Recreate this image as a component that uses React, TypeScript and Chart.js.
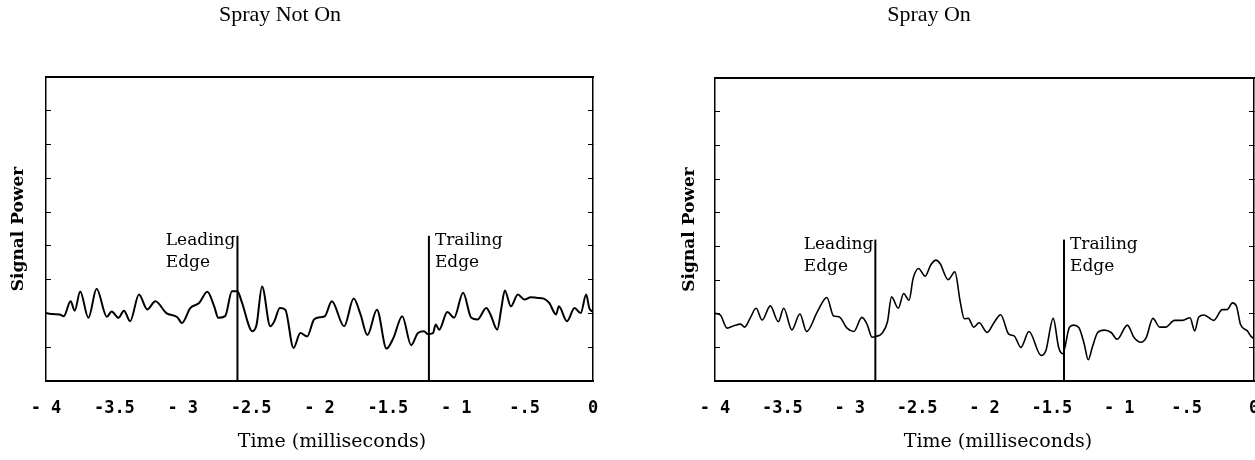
import React, { useEffect, useRef } from "react";
import { Chart, registerables } from "chart.js";

Chart.register(...registerables);

// ---------- data ----------
const noSprayTime = [-4.0, -3.95, -3.9, -3.87, -3.82, -3.79, -3.75, -3.69, -3.63, -3.555, -3.52, -3.47, -3.43, -3.385, -3.32, -3.26, -3.2, -3.12, -3.04, -3.006, -2.945, -2.88, -2.82, -2.77, -2.74, -2.69, -2.64, -2.6, -2.57, -2.49, -2.46, -2.42, -2.36, -2.33, -2.29, -2.25, -2.19, -2.14, -2.09, -2.04, -1.99, -1.96, -1.91, -1.82, -1.75, -1.7, -1.65, -1.58, -1.51, -1.46, -1.395, -1.33, -1.28, -1.235, -1.21, -1.17, -1.15, -1.125, -1.065, -1.016, -0.95, -0.89, -0.845, -0.78, -0.75, -0.7, -0.67, -0.645, -0.6, -0.55, -0.5, -0.455, -0.405, -0.36, -0.32, -0.27, -0.25, -0.19, -0.135, -0.09, -0.05, -0.027, 0];
const noSprayPower = [2.01, 1.98, 1.97, 1.92, 2.36, 2.08, 2.65, 1.87, 2.73, 1.9, 2.06, 1.87, 2.08, 1.77, 2.56, 2.12, 2.36, 2.01, 1.89, 1.72, 2.16, 2.31, 2.64, 2.21, 1.87, 1.92, 2.66, 2.66, 2.36, 1.47, 1.67, 2.8, 1.62, 1.77, 2.16, 2.11, 0.98, 1.42, 1.32, 1.82, 1.89, 1.92, 2.36, 1.62, 2.44, 1.97, 1.36, 2.11, 0.96, 1.27, 1.92, 1.06, 1.42, 1.47, 1.39, 1.42, 1.67, 1.52, 2.04, 1.87, 2.61, 1.87, 1.82, 2.16, 1.97, 1.52, 2.16, 2.68, 2.21, 2.56, 2.41, 2.48, 2.46, 2.44, 2.31, 1.97, 2.21, 1.77, 2.16, 2.01, 2.56, 2.16, 2.05];

const sprayTime = [-4.0, -3.96, -3.91, -3.86, -3.81, -3.78, -3.74, -3.695, -3.65, -3.59, -3.53, -3.49, -3.43, -3.37, -3.32, -3.24, -3.17, -3.12, -3.08, -3.02, -2.97, -2.91, -2.87, -2.835, -2.81, -2.76, -2.72, -2.69, -2.64, -2.6, -2.56, -2.53, -2.49, -2.44, -2.4, -2.36, -2.33, -2.27, -2.22, -2.18, -2.15, -2.12, -2.08, -2.04, -1.98, -1.93, -1.88, -1.82, -1.78, -1.73, -1.67, -1.58, -1.545, -1.49, -1.45, -1.42, -1.37, -1.34, -1.3, -1.26, -1.23, -1.2, -1.16, -1.11, -1.06, -1.015, -0.94, -0.89, -0.84, -0.8, -0.75, -0.7, -0.655, -0.59, -0.53, -0.475, -0.44, -0.41, -0.37, -0.3, -0.235, -0.2, -0.16, -0.13, -0.1, -0.05, -0.025, 0];
const sprayPower = [2.01, 1.96, 1.57, 1.64, 1.69, 1.6, 1.86, 2.16, 1.81, 2.23, 1.76, 2.16, 1.52, 1.99, 1.47, 2.06, 2.48, 1.93, 1.91, 1.57, 1.47, 1.89, 1.67, 1.3, 1.32, 1.42, 1.76, 2.5, 2.16, 2.6, 2.4, 3.04, 3.34, 3.11, 3.44, 3.59, 3.49, 3.01, 3.24, 2.35, 1.85, 1.86, 1.6, 1.73, 1.44, 1.73, 1.97, 1.39, 1.34, 1.0, 1.47, 0.76, 0.9, 1.86, 1.0, 0.81, 1.59, 1.66, 1.59, 1.1, 0.63, 1.0, 1.44, 1.51, 1.44, 1.24, 1.66, 1.29, 1.15, 1.29, 1.86, 1.6, 1.6, 1.8, 1.8, 1.88, 1.49, 1.9, 1.96, 1.8, 2.12, 2.12, 2.32, 2.22, 1.68, 1.49, 1.34, 1.25];

const xTickValues = [-4, -3.5, -3, -2.5, -2, -1.5, -1, -0.5, 0];
const xTickLabels = ["- 4", "-3.5", "- 3", "-2.5", "- 2", "-1.5", "- 1", "-.5", "0"];
const yMin = 0;
const yMax = 9;
const yStep = 1;

const panelTitles = ["Spray Not On", "Spray On"];
const edgeLabelLines = [["Leading", "Edge"], ["Trailing", "Edge"]];
const noSprayEdgeTimes = [-2.6, -1.2];
const sprayEdgeTimes = [-2.81, -1.41];
const edgeTopValues = [4.3, 4.2];
const yAxisTitle = "Signal Power";
const xAxisTitle = "Time (milliseconds)";

// ---------- layout ----------
const H = 460;
const panels = [
  {
    key: "a", left: 0, width: 640, plotLeft: 46, plotRight: 593, plotTop: 77, plotBottom: 381,
    title: panelTitles[0], titleX: 280, titleY: 15, yTitleX: 19, xTitleX: 332, xTitleY: 442,
    times: noSprayTime, power: noSprayPower, edgeTimes: noSprayEdgeTimes, edgeTop: edgeTopValues[0], lineWidth: 2,
  },
  {
    key: "b", left: 640, width: 640, plotLeft: 715, plotRight: 1254, plotTop: 78, plotBottom: 381,
    title: panelTitles[1], titleX: 929, titleY: 15, yTitleX: 690, xTitleX: 998, xTitleY: 442,
    times: sprayTime, power: sprayPower, edgeTimes: sprayEdgeTimes, edgeTop: edgeTopValues[1], lineWidth: 1.6,
  },
];

const titleFont = "22px 'Liberation Serif', serif";
const edgeFont = "17px 'DejaVu Serif', serif";
const xTitleFont = "19px 'DejaVu Serif', serif";
const tickFont = { family: "'DejaVu Sans Mono', monospace", size: 17, weight: "bold" as const };
const yTitleFont = { family: "'DejaVu Serif', serif", size: 17, weight: "bold" as const };

function Panel({ s }: { s: (typeof panels)[number] }) {
  const ref = useRef<HTMLCanvasElement>(null);
  useEffect(() => {
    const canvas = ref.current!;
    const textPlugin = {
      id: "panelText",
      afterDatasetsDraw(chart: any) {
        const { ctx } = chart;
        const xs = chart.scales.x;
        const ys = chart.scales.y;
        ctx.save();
        ctx.fillStyle = "#000";
        ctx.textAlign = "center";
        ctx.textBaseline = "middle";
        ctx.font = titleFont;
        ctx.fillText(s.title, s.titleX - s.left, s.titleY);
        ctx.font = xTitleFont;
        ctx.fillText(xAxisTitle, s.xTitleX - s.left, s.xTitleY);
        ctx.font = edgeFont;
        ctx.textAlign = "left";
        ctx.textBaseline = "alphabetic";
        s.edgeTimes.forEach((t, i) => {
          const px = xs.getPixelForValue(t);
          const py = ys.getPixelForValue(s.edgeTop);
          const lines = edgeLabelLines[i];
          const first = ctx.measureText(lines[0]).width;
          const tx = i === 0 ? px - 2 - first : px + 6;
          lines.forEach((ln, j) => ctx.fillText(ln, tx, py + 9 + j * 22));
        });
        ctx.restore();
      },
    };

    const yTitleLH = yTitleFont.size * 1.2;

    const chart = new Chart(canvas, {
      type: "line",
      data: {
        datasets: [
          {
            label: s.title,
            data: s.times.map((t, i) => ({ x: t, y: s.power[i] })),
            borderColor: "#000",
            borderWidth: s.lineWidth,
            pointRadius: 0,
            cubicInterpolationMode: "monotone",
            fill: false,
          },
          ...s.edgeTimes.map((t, i) => ({
            label: edgeLabelLines[i].join(" "),
            data: [
              { x: t, y: yMin },
              { x: t, y: s.edgeTop },
            ],
            borderColor: "#000",
            borderWidth: 2,
            pointRadius: 0,
            tension: 0,
            fill: false,
          })),
        ],
      },
      options: {
        responsive: false,
        animation: false,
        events: [],
        layout: { padding: { left: 0, right: s.left + s.width - s.plotRight, top: s.plotTop, bottom: 0 } },
        plugins: { legend: { display: false }, tooltip: { enabled: false }, title: { display: false } },
        scales: {
          x: {
            type: "linear",
            position: "bottom",
            min: -4,
            max: 0,
            afterBuildTicks: (sc: any) => {
              sc.ticks = xTickValues.map((v) => ({ value: v }));
            },
            afterFit: (sc: any) => {
              sc.height = H - s.plotBottom;
              sc.paddingLeft = 0;
              sc.paddingRight = 0;
            },
            grid: { display: false },
            border: { display: true, color: "#000", width: 2 },
            ticks: {
              autoSkip: false,
              maxRotation: 0,
              minRotation: 0,
              padding: 9,
              color: "#000",
              font: tickFont,
              callback: (_v: any, i: number) => xTickLabels[i],
            },
          },
          x2: {
            type: "linear",
            position: "top",
            min: -4,
            max: 0,
            grid: { display: false },
            border: { display: true, color: "#000", width: 2 },
            ticks: { display: false },
            afterFit: (sc: any) => {
              sc.height = 0;
              sc.paddingLeft = 0;
              sc.paddingRight = 0;
            },
          },
          y: {
            type: "linear",
            position: "left",
            min: yMin,
            max: yMax,
            ticks: { display: false, stepSize: yStep },
            grid: { display: true, drawOnChartArea: false, drawTicks: true, tickLength: -5, color: "#000", lineWidth: 1 },
            border: { display: true, color: "#000", width: 1.5 },
            title: {
              display: true,
              text: yAxisTitle,
              color: "#000",
              font: yTitleFont,
              padding: { top: s.yTitleX - s.left - yTitleLH / 2, bottom: 0 },
            },
            afterFit: (sc: any) => {
              sc.width = s.plotLeft - s.left;
              sc.paddingTop = 0;
              sc.paddingBottom = 0;
            },
          },
          y2: {
            type: "linear",
            position: "right",
            min: yMin,
            max: yMax,
            ticks: { display: false, stepSize: yStep },
            grid: { display: true, drawOnChartArea: false, drawTicks: true, tickLength: -5, color: "#000", lineWidth: 1 },
            border: { display: true, color: "#000", width: 1.5 },
            afterFit: (sc: any) => {
              sc.width = 0;
              sc.paddingTop = 0;
              sc.paddingBottom = 0;
            },
          },
        },
      } as any,
      plugins: [textPlugin],
    });
    return () => chart.destroy();
  }, [s]);

  return (
    <canvas
      ref={ref}
      width={s.width}
      height={H}
      style={{ position: "absolute", left: s.left, top: 0, width: s.width, height: H }}
    />
  );
}

export default function App() {
  return (
    <div
      style={{
        position: "fixed",
        left: 0,
        top: 0,
        width: 1255,
        height: H,
        overflow: "hidden",
        background: "#fff",
      }}
    >
      {panels.map((p) => (
        <Panel key={p.key} s={p} />
      ))}
    </div>
  );
}
